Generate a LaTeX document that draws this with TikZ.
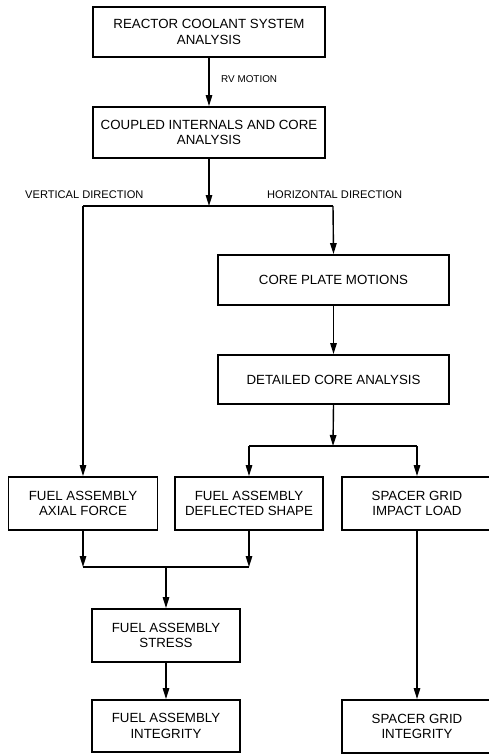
\documentclass[tikz,border=0pt]{standalone}
\usepackage{fontspec}
\setmainfont{Liberation Sans}
\usetikzlibrary{arrows.meta}
\begin{document}
\begin{tikzpicture}[x=1pt,y=-1pt,
  box/.style={draw,line width=1.9pt,inner sep=0pt,align=center,
    font=\fontsize{13.3}{15.5}\selectfont},
  conn/.style={line width=1.4pt},
  arr/.style={conn,-{Triangle[length=11pt,width=6.5pt]}},
  lbl/.style={inner sep=0pt,anchor=west}]
\useasboundingbox (0,0) rectangle (488,755);
% boxes
\node[box,minimum width=232pt,minimum height=50pt] (b1) at (209,32) {REACTOR COOLANT SYSTEM\\ANALYSIS};
\node[box,minimum width=232pt,minimum height=51pt] (b2) at (209,132.5) {COUPLED INTERNALS AND CORE\\ANALYSIS};
\node[box,minimum width=231pt,minimum height=50pt] (cp) at (333.5,280) {CORE PLATE MOTIONS};
\node[box,minimum width=231pt,minimum height=49pt] (dc) at (333.5,379.5) {DETAILED CORE ANALYSIS};
\node[box,minimum width=149pt,minimum height=53pt] (fa) at (83,503.5) {FUEL ASSEMBLY\\AXIAL FORCE};
\node[box,minimum width=148pt,minimum height=53pt] (fd) at (249,503.5) {FUEL ASSEMBLY\\DEFLECTED SHAPE};
\node[box,minimum width=166pt,minimum height=53pt] (sg) at (425,503.5) {\hspace*{-16pt}SPACER GRID\\\hspace*{-16pt}IMPACT LOAD};
\node[box,minimum width=148pt,minimum height=53pt] (fs) at (166,635.5) {FUEL ASSEMBLY\\STRESS};
\node[box,minimum width=148pt,minimum height=52pt] (fi) at (166,726) {FUEL ASSEMBLY\\INTEGRITY};
\node[box,minimum width=166pt,minimum height=53pt] (si) at (425,726.5) {\hspace*{-16pt}SPACER GRID\\\hspace*{-16pt}INTEGRITY};
% labels
\node[lbl,font=\fontsize{9.9}{12}\selectfont] (rv) at (221,79) {RV MOTION};
\node[lbl,font=\fontsize{11.1}{13}\selectfont] (vd) at (25,195) {VERTICAL DIRECTION};
\node[lbl,font=\fontsize{11.1}{13}\selectfont] (hd) at (267,195) {HORIZONTAL DIRECTION};
% junction coordinates
\coordinate (j0) at (209,206);
\coordinate (jL) at (83,206);
\coordinate (jR) at (333,206);
\coordinate (k0) at (333,446);
\coordinate (kL) at (249,446);
\coordinate (kR) at (417,446);
\coordinate (mL) at (83,567);
\coordinate (mR) at (249,567);
\coordinate (m0) at (166,567);
% connectors
\draw[arr] (b1.south) -- (b2.north);
\draw[arr] (b2.south) -- (j0);
\draw[conn] (jL) -- (jR);
\draw[arr] (jL) -- (fa.north);
\draw[arr] (jR) -- (cp.north);
\draw[arr] (cp.south) -- (dc.north);
\draw[arr] (dc.south) -- (k0);
\draw[conn] (kL) -- (kR);
\draw[arr] (kL) -- (fd.north);
\draw[arr] (kR) -- (kR |- sg.north);
\draw[arr] (fa.south) -- (mL);
\draw[arr] (fd.south) -- (mR);
\draw[conn] (mL) -- (mR);
\draw[arr] (m0) -- (fs.north);
\draw[arr] (fs.south) -- (fi.north);
\draw[arr] (kR |- sg.south) -- (kR |- si.north);
\end{tikzpicture}
\end{document}
